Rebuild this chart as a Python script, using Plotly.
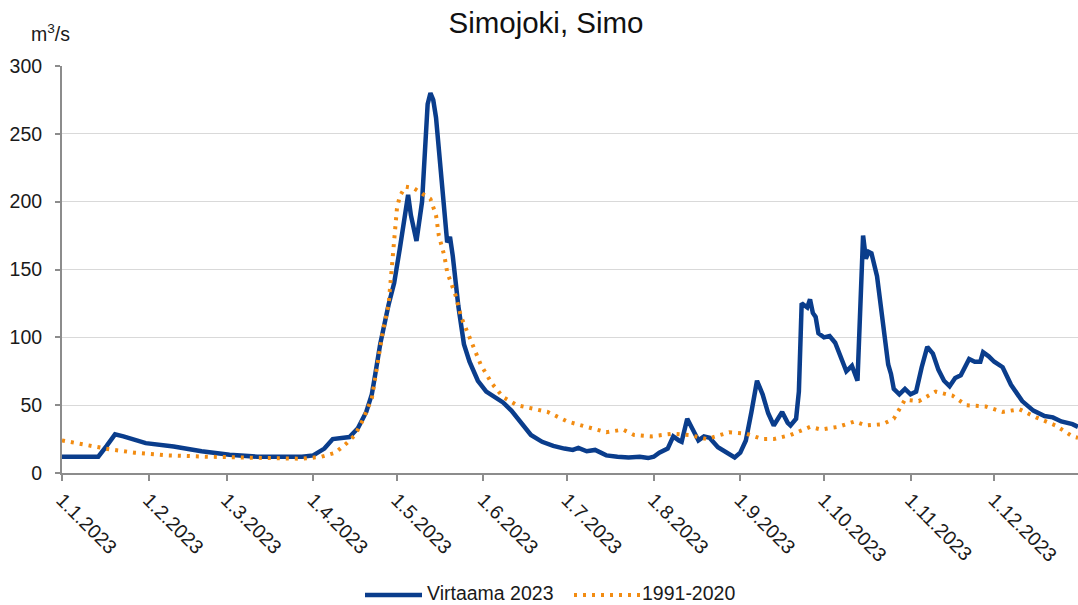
import plotly.graph_objects as go

# Virtaama 2023 (m3/s)
flow_dates = [
    "2023-01-01", "2023-01-14", "2023-01-17", "2023-01-20", "2023-01-23", "2023-01-31",
    "2023-02-10", "2023-02-20", "2023-03-02", "2023-03-12", "2023-03-28", "2023-04-01",
    "2023-04-05", "2023-04-08", "2023-04-14", "2023-04-17", "2023-04-20", "2023-04-22",
    "2023-04-23", "2023-04-25", "2023-04-28", "2023-04-30", "2023-05-02", "2023-05-04",
    "2023-05-05", "2023-05-06", "2023-05-08", "2023-05-10", "2023-05-11", "2023-05-12",
    "2023-05-13", "2023-05-14", "2023-05-15", "2023-05-17", "2023-05-19", "2023-05-20",
    "2023-05-21", "2023-05-23", "2023-05-25", "2023-05-27", "2023-05-30", "2023-06-02",
    "2023-06-05", "2023-06-08", "2023-06-11", "2023-06-14", "2023-06-18", "2023-06-22",
    "2023-06-26", "2023-06-30", "2023-07-03", "2023-07-05", "2023-07-08", "2023-07-11",
    "2023-07-15", "2023-07-19", "2023-07-23", "2023-07-27", "2023-07-30", "2023-08-01",
    "2023-08-03", "2023-08-06", "2023-08-08", "2023-08-10", "2023-08-11", "2023-08-13",
    "2023-08-15", "2023-08-17", "2023-08-19", "2023-08-21", "2023-08-24", "2023-08-27",
    "2023-08-30", "2023-09-01", "2023-09-03", "2023-09-05", "2023-09-07", "2023-09-09",
    "2023-09-11", "2023-09-13", "2023-09-15", "2023-09-16", "2023-09-18", "2023-09-19",
    "2023-09-21", "2023-09-22", "2023-09-23", "2023-09-25", "2023-09-26", "2023-09-27",
    "2023-09-28", "2023-09-29", "2023-10-01", "2023-10-03", "2023-10-05", "2023-10-07",
    "2023-10-09", "2023-10-11", "2023-10-13", "2023-10-15", "2023-10-16", "2023-10-17",
    "2023-10-18", "2023-10-20", "2023-10-22", "2023-10-24", "2023-10-25", "2023-10-26",
    "2023-10-28", "2023-10-30", "2023-11-01", "2023-11-03", "2023-11-05", "2023-11-07",
    "2023-11-09", "2023-11-11", "2023-11-13", "2023-11-15", "2023-11-17", "2023-11-19",
    "2023-11-22", "2023-11-24", "2023-11-26", "2023-11-27", "2023-11-29", "2023-12-01",
    "2023-12-04", "2023-12-07", "2023-12-11", "2023-12-15", "2023-12-19", "2023-12-22",
    "2023-12-25", "2023-12-29", "2023-12-31",
]
flow_values = [
    12, 12, 20, 28.5, 27, 22,
    19.5, 16, 13.5, 12, 12, 13,
    18, 25, 26.5, 33, 45, 58,
    70, 95, 124, 140, 165, 192,
    205, 190, 171, 200, 240, 272,
    280, 275, 262, 215, 170, 174,
    160, 123, 95, 82, 68, 60,
    56, 52, 46, 38, 28, 23,
    20, 18, 17, 18.5, 16, 17,
    13, 12, 11.5, 12, 11, 12,
    15, 18, 27, 24, 23, 40,
    32, 24, 27, 26, 19, 15,
    11.5, 15, 24, 45, 68, 58,
    44, 35, 41, 45, 37, 35,
    40, 60, 125, 122, 128, 118,
    115, 103, 100, 101, 96, 85,
    75, 79, 68, 175, 158, 163,
    162, 145, 112, 80, 73, 62,
    58, 62, 58, 60, 78, 93,
    88, 76, 68, 64, 70, 72,
    84, 82, 82, 89, 86, 82,
    78, 65, 53, 46, 42, 41,
    38, 36, 34,
]

# 1991-2020 reference (m3/s)
ref_dates = [
    "2023-01-01", "2023-01-06", "2023-01-12", "2023-01-18", "2023-01-27", "2023-02-08",
    "2023-02-22", "2023-03-16", "2023-03-28", "2023-04-04", "2023-04-09", "2023-04-13",
    "2023-04-16", "2023-04-19", "2023-04-22", "2023-04-24", "2023-04-26", "2023-04-28",
    "2023-04-29", "2023-04-30", "2023-05-01", "2023-05-02", "2023-05-04", "2023-05-07",
    "2023-05-10", "2023-05-13", "2023-05-15", "2023-05-16", "2023-05-18", "2023-05-19",
    "2023-05-22", "2023-05-24", "2023-05-27", "2023-05-31", "2023-06-04", "2023-06-08",
    "2023-06-13", "2023-06-18", "2023-06-24", "2023-07-01", "2023-07-08", "2023-07-15",
    "2023-07-21", "2023-07-25", "2023-07-31", "2023-08-08", "2023-08-14", "2023-08-20",
    "2023-08-28", "2023-09-03", "2023-09-09", "2023-09-13", "2023-09-19", "2023-09-23",
    "2023-09-26", "2023-09-30", "2023-10-06", "2023-10-12", "2023-10-16", "2023-10-22",
    "2023-10-26", "2023-10-28", "2023-10-30", "2023-11-04", "2023-11-10", "2023-11-16",
    "2023-11-21", "2023-11-28", "2023-12-04", "2023-12-10", "2023-12-16", "2023-12-23",
    "2023-12-29", "2023-12-31",
]
ref_values = [
    24, 22, 20, 17.5, 15, 13,
    12, 11, 10.5, 12, 15, 22,
    28, 40, 55, 80, 105, 124,
    146, 175, 195, 204, 211, 210,
    206, 202, 190, 175, 160, 148,
    131, 115, 100, 80, 66, 56,
    50, 48, 45, 38, 34, 30,
    32, 28, 27, 29, 28, 25,
    30, 29, 25, 25, 28, 31,
    34, 32, 34, 38, 35, 36,
    40, 47, 54, 53, 60, 57,
    50, 49, 45, 47, 41, 35,
    27, 26,
]

tick_dates = [
    "2023-01-01", "2023-02-01", "2023-03-01", "2023-04-01", "2023-05-01", "2023-06-01",
    "2023-07-01", "2023-08-01", "2023-09-01", "2023-10-01", "2023-11-01", "2023-12-01",
]
tick_labels = [
    "1.1.2023", "1.2.2023", "1.3.2023", "1.4.2023", "1.5.2023", "1.6.2023",
    "1.7.2023", "1.8.2023", "1.9.2023", "1.10.2023", "1.11.2023", "1.12.2023",
]
series_names = ["Virtaama 2023", "1991-2020"]

FONT = "Liberation Sans, Arial, sans-serif"
TXT = "#1a1a1a"
BLUE = "#0a3d8c"
ORANGE = "#f28c12"
DOT = "3px,6px"

# plot area geometry (px)
W, H = 1078, 605
L, R, T, B = 62, 0, 66, 132
PW = W - L - R
PH = H - T - B


def px_x(px):
    return (px - L) / PW


def px_y(py):
    return (H - B - py) / PH


fig = go.Figure()
fig.add_trace(go.Scatter(
    x=flow_dates, y=flow_values, mode="lines", name=series_names[0],
    line=dict(color=BLUE, width=4.5), showlegend=False,
))
fig.add_trace(go.Scatter(
    x=ref_dates, y=ref_values, mode="lines", name=series_names[1],
    line=dict(color=ORANGE, width=4, dash=DOT), showlegend=False,
))

# manual legend (wider samples as in the reference)
legend_y = px_y(595)
text_y = px_y(593)
shapes = [
    dict(type="line", xref="paper", yref="paper", x0=px_x(365), x1=px_x(422),
         y0=legend_y, y1=legend_y, line=dict(color=BLUE, width=4.5)),
    dict(type="line", xref="paper", yref="paper", x0=px_x(574), x1=px_x(640),
         y0=legend_y, y1=legend_y, line=dict(color=ORANGE, width=4, dash=DOT)),
]
annotations = [
    dict(text="m<sup>3</sup>/s", xref="paper", yref="paper",
         x=px_x(50), y=px_y(33), xanchor="center", yanchor="middle",
         showarrow=False, font=dict(family=FONT, size=19.5, color=TXT)),
    dict(text=series_names[0], xref="paper", yref="paper",
         x=px_x(426), y=text_y, xanchor="left", yanchor="middle",
         showarrow=False, borderpad=0, font=dict(family=FONT, size=19.5, color=TXT)),
    dict(text=series_names[1], xref="paper", yref="paper",
         x=px_x(641), y=text_y, xanchor="left", yanchor="middle",
         showarrow=False, borderpad=0, font=dict(family=FONT, size=19.5, color=TXT)),
]

fig.update_layout(
    width=W, height=H,
    margin=dict(l=L, r=R, t=T, b=B, autoexpand=False),
    paper_bgcolor="white", plot_bgcolor="white",
    font=dict(family=FONT, size=19.5, color=TXT),
    title=dict(text="Simojoki, Simo", x=546 / W, xanchor="center",
               y=1 - 23 / H, yanchor="middle", xref="container", yref="container",
               font=dict(family=FONT, size=29.5, color="#111111")),
    showlegend=False,
    xaxis=dict(
        range=["2023-01-01", "2023-12-31"], type="date",
        tickvals=tick_dates, ticktext=tick_labels, tickangle=45,
        showgrid=False, showline=True, linecolor="#8c8c8c", linewidth=2,
        ticks="outside", ticklen=6, tickcolor="#8c8c8c", tickwidth=2,
        tickfont=dict(family=FONT, size=19.5, color=TXT),
        automargin=False, fixedrange=True,
    ),
    yaxis=dict(
        range=[0, 300], dtick=50, tick0=0,
        showgrid=True, gridcolor="#d9d9d9", gridwidth=1,
        showline=True, linecolor="#8c8c8c", linewidth=2,
        ticks="outside", ticklen=5, tickcolor="#8c8c8c", tickwidth=2,
        tickfont=dict(family=FONT, size=19.5, color=TXT),
        ticklabelstandoff=9, zeroline=False,
        automargin=False, fixedrange=True,
    ),
    shapes=shapes,
    annotations=annotations,
)

fig.write_html(
    "out.html",
    config={"displayModeBar": False, "staticPlot": True},
    post_script="document.body.style.margin='0px';document.body.style.overflow='hidden';",
)
